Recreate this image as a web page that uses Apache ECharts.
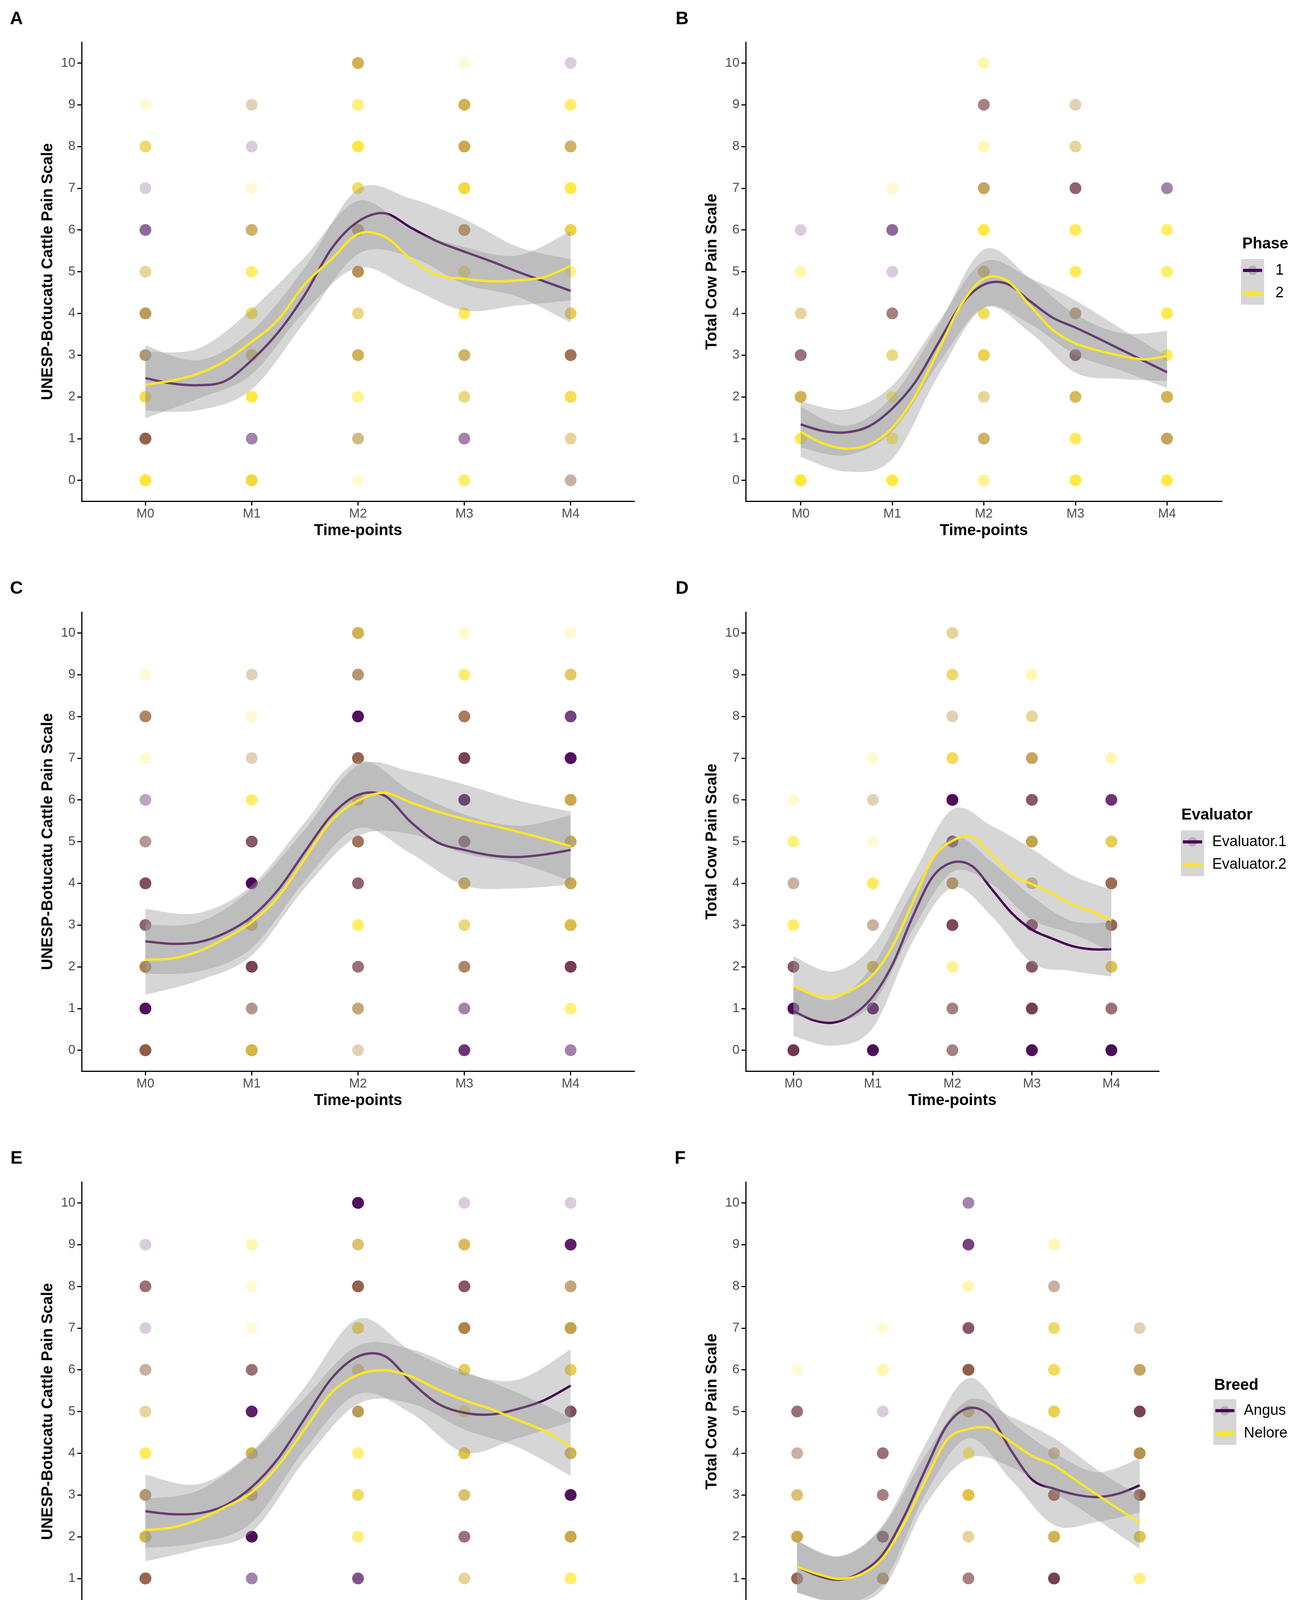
<!DOCTYPE html>
<html><head><meta charset="utf-8">
<script src="https://cdn.jsdelivr.net/npm/echarts@6/dist/echarts.min.js"></script>
<style>html,body{margin:0;padding:0;background:#fff}#c{width:3315px;height:5767px}</style>
</head><body><div id="c"></div>
<script>
// ---------------- DATA ----------------
const timeLabels = ['M0','M1','M2','M3','M4'];
const scoreTicks = [0,1,2,3,4,5,6,7,8,9,10];
const timeTicks = [0,1,2,3,4];
const fitX = [0,0.25,0.5,0.75,1,1.25,1.5,1.75,2,2.25,2.5,2.75,3,3.25,3.5,3.75,4];
const bandX = [0,0.5,1,1.5,2,2.5,3,3.5,4];
const yTitleUNESP = 'UNESP-Botucatu Cattle Pain Scale';
const yTitleTotal = 'Total Cow Pain Scale';
const xTitle = 'Time-points';
const phaseLabels = ['1','2'];
const evaluatorLabels = ['Evaluator.1','Evaluator.2'];
const breedLabels = ['Angus','Nelore'];
const animalLabels = ['1','2','3','4','6','7','8','9','11','12','15','16','17','18','19','20','21','22','24'];

// counts of observations per time point (rows M0..M4), per score 0..10
const A_phase1 = [[0,10,1,4,5,1,4,1,1,0,0],[2,3,0,3,1,0,3,0,1,1,0],[0,2,0,4,1,6,6,1,0,0,4],[0,3,1,3,0,1,6,2,5,4,0],[2,1,1,7,2,0,2,0,3,0,1]];
const A_phase2 = [[10,2,8,2,3,2,0,0,4,1,0],[8,0,8,4,6,5,3,1,0,1,0],[1,2,3,4,3,3,3,5,9,4,4],[5,0,3,3,6,6,3,8,4,4,1],[1,2,6,2,5,3,6,8,3,5,0]];
const B_phase1 = [[0,0,4,5,1,0,1,0,0,0,0],[0,0,0,1,4,1,4,0,0,0,0],[0,3,1,2,1,4,0,4,0,4,0],[0,0,3,8,4,0,0,6,1,1,0],[0,4,4,0,0,0,0,3,0,0,0]];
const B_phase2 = [[10,7,4,1,2,2,0,0,0,0,0],[9,6,5,3,1,0,0,1,0,0,0],[3,3,2,6,5,4,8,3,2,1,2],[8,6,4,1,2,6,6,1,2,1,0],[8,3,4,6,7,5,5,0,0,0,0]];
const C_eval1 = [[12,12,8,6,8,3,2,0,5,0,0],[5,3,10,4,14,7,0,1,0,1,0],[1,3,5,0,6,7,3,9,12,4,4],[7,3,5,1,5,10,12,10,6,0,0],[3,0,11,4,5,4,5,12,6,2,0]];
const C_eval2 = [[2,0,3,1,1,1,0,1,2,1,0],[5,1,1,4,0,1,5,1,1,1,0],[1,2,1,5,1,2,4,2,0,2,4],[0,0,2,3,4,1,0,1,2,5,1],[0,4,1,5,4,3,4,0,0,4,1]];
const D_eval1 = [[13,14,7,0,2,0,0,0,0,0,0],[13,14,5,2,0,0,1,0,0,0,0],[4,4,0,9,6,11,13,1,1,1,1],[13,11,7,9,2,6,7,4,1,0,0],[14,5,3,9,8,2,7,0,0,0,0]];
const D_eval2 = [[1,0,1,5,1,4,1,0,0,0,0],[0,0,5,1,6,1,1,1,0,0,0],[1,1,3,1,3,1,0,5,1,4,2],[0,1,1,1,2,4,1,3,2,2,0],[0,1,5,2,2,5,0,2,0,0,0]];
const E_angus = [[12,9,5,4,0,1,2,1,5,1,0],[0,3,13,5,5,9,5,0,0,0,0],[1,5,0,1,0,5,2,2,10,2,12],[7,1,5,2,4,1,2,8,7,3,1],[0,0,5,12,4,8,2,6,3,9,1]];
const E_nelore = [[1,2,5,2,6,2,1,0,1,0,0],[7,0,0,4,5,0,1,1,1,2,0],[1,0,4,5,4,3,4,6,2,3,0],[0,2,1,3,6,5,5,3,1,4,0],[2,5,4,0,4,1,6,4,2,0,0]];
const F_angus = [[10,9,5,2,2,5,0,0,0,0,0],[9,7,13,4,5,1,0,0,0,0,0],[4,4,1,4,0,4,11,7,0,6,3],[11,11,4,10,2,2,1,1,2,0,0],[7,0,3,10,6,10,4,1,0,0,0]];
const F_nelore = [[2,2,4,3,1,1,1,0,0,0,0],[2,3,1,1,1,0,2,1,0,0,0],[1,1,2,6,5,4,2,1,2,0,0],[1,1,4,2,2,6,5,4,1,2,0],[4,4,5,2,3,1,3,1,0,0,0]];

// smoothed fits (at fitX) and confidence half-widths (at bandX)
const A_fit1 = [2.45,2.32,2.28,2.38,2.88,3.55,4.45,5.55,6.2,6.4,6.05,5.72,5.48,5.25,5.0,4.77,4.54];
const A_fit2 = [2.29,2.39,2.56,2.86,3.32,3.85,4.7,5.3,5.9,5.84,5.3,4.92,4.83,4.77,4.79,4.87,5.14];
const A_hw1 = [0.78,0.6,0.7,0.65,0.78,0.7,0.78,0.6,0.76];
const A_hw2 = [0.8,0.6,0.78,0.65,0.8,0.7,0.76,0.6,0.83];
const B_fit1 = [1.34,1.18,1.15,1.3,1.72,2.35,3.28,4.2,4.69,4.71,4.3,3.9,3.66,3.4,3.13,2.86,2.59];
const B_fit2 = [1.16,0.88,0.76,0.86,1.26,2.02,3.1,4.2,4.83,4.79,4.2,3.61,3.28,3.11,2.98,2.9,2.98];
const B_hw1 = [0.55,0.55,0.55,0.5,0.55,0.55,0.65,0.5,0.38];
const B_hw2 = [0.6,0.55,0.75,0.6,0.7,0.65,0.7,0.55,0.6];
const C_fit1 = [2.61,2.55,2.59,2.81,3.2,3.85,4.76,5.63,6.12,6.1,5.46,4.98,4.8,4.67,4.63,4.69,4.8];
const C_fit2 = [2.17,2.2,2.37,2.68,3.07,3.68,4.59,5.5,5.98,6.17,5.93,5.72,5.54,5.39,5.24,5.07,4.89];
const C_hw1 = [0.78,0.7,0.75,0.7,0.8,0.75,0.85,0.75,0.83];
const C_hw2 = [0.84,0.7,0.8,0.7,0.85,0.75,0.83,0.75,0.83];
const D_fit1 = [0.94,0.72,0.66,0.85,1.29,2.07,3.2,4.15,4.5,4.41,3.85,3.28,2.89,2.68,2.5,2.42,2.42];
const D_fit2 = [1.55,1.33,1.29,1.46,1.81,2.5,3.54,4.59,5.02,5.11,4.67,4.2,3.98,3.76,3.5,3.33,3.11];
const D_hw1 = [0.6,0.55,0.75,0.6,0.6,0.65,0.8,0.6,0.65];
const D_hw2 = [0.7,0.6,0.7,0.65,0.75,0.7,0.85,0.7,0.74];
const E_fit1 = [2.61,2.54,2.56,2.75,3.19,3.88,4.84,5.79,6.32,6.33,5.71,5.19,4.97,4.93,5.06,5.27,5.62];
const E_fit2 = [2.16,2.22,2.41,2.71,3.06,3.71,4.58,5.45,5.88,5.99,5.84,5.53,5.27,5.06,4.8,4.54,4.16];
const E_hw1 = [0.88,0.7,0.85,0.75,0.9,0.75,0.95,0.7,0.87];
const E_hw2 = [0.75,0.7,0.95,0.75,0.7,0.65,0.7,0.65,0.7];
const F_fit1 = [1.28,1.06,0.97,1.15,1.58,2.49,3.62,4.67,5.08,4.89,4.06,3.36,3.15,3.01,2.95,3.03,3.23];
const F_fit2 = [1.28,1.1,0.99,1.1,1.49,2.32,3.36,4.32,4.58,4.6,4.27,3.93,3.71,3.36,3.01,2.67,2.34];
const F_hw1 = [0.62,0.55,0.7,0.6,0.72,0.7,0.87,0.6,0.65];
const F_hw2 = [0.62,0.55,0.75,0.6,0.7,0.6,0.65,0.6,0.63];

// per-animal points: [time index, score, animal index, count]
const G_points = [[0,9,11,1],[0,8,11,4],[0,7,12,1],[0,6,16,2],[0,5,10,2],[0,4,6,4],[0,3,2,1],[0,3,15,2],[0,2,1,2],[0,2,16,3],[0,1,3,2],[0,1,13,3],[0,0,2,1],[0,0,14,4],
 [1,9,2,2],[1,8,3,1],[1,7,4,2],[1,6,11,3],[1,5,13,3],[1,4,1,1],[1,4,10,3],[1,3,2,1],[1,3,15,3],[1,2,16,3],[1,1,15,1],[1,0,8,4],
 [2,10,15,4],[2,9,3,1],[2,9,16,2],[2,8,1,1],[2,8,15,4],[2,7,8,4],[2,6,7,3],[2,5,11,3],[2,4,2,2],[2,4,12,1],[2,3,4,1],[2,3,14,2],[2,2,4,1],[2,2,14,2],[2,1,13,2],[2,0,8,1],
 [3,10,11,1],[3,9,10,3],[3,8,3,1],[3,8,15,2],[3,7,11,3],[3,6,6,3],[3,5,5,3],[3,4,2,1],[3,4,14,2],[3,3,3,1],[3,3,15,2],[3,2,16,2],[3,1,10,1],[3,0,15,2],
 [4,10,11,1],[4,9,11,3],[4,8,10,2],[4,7,2,1],[4,7,13,3],[4,6,3,1],[4,6,12,4],[4,5,16,3],[4,4,3,1],[4,4,10,2],[4,3,16,3],[4,2,3,1],[4,2,14,2],[4,1,4,3],[4,0,2,2]];
const H_points = [[0,6,9,1],[0,5,13,2],[0,4,11,2],[0,3,9,2],[0,2,3,1],[0,2,15,2],[0,1,3,1],[0,1,14,3],[0,0,2,1],[0,0,14,5],
 [1,7,2,1],[1,6,2,2],[1,5,13,1],[1,4,15,2],[1,3,10,2],[1,2,14,3],[1,1,3,1],[1,1,14,3],[1,0,2,1],[1,0,14,5],
 [2,10,15,2],[2,9,16,2],[2,8,3,2],[2,7,4,1],[2,7,16,2],[2,6,13,3],[2,5,2,1],[2,5,15,3],[2,4,7,2],[2,3,2,1],[2,3,8,3],[2,2,14,2],[2,1,9,2],[2,0,12,2],
 [3,9,4,2],[3,8,14,2],[3,7,11,3],[3,6,6,3],[3,5,2,1],[3,5,11,3],[3,4,6,2],[3,3,3,1],[3,3,13,2],[3,2,3,1],[3,2,14,2],[3,1,14,3],[3,0,17,3],
 [4,7,10,2],[4,6,3,1],[4,6,14,2],[4,5,11,3],[4,4,1,2],[4,4,13,3],[4,3,16,3],[4,2,11,3],[4,1,3,1],[4,1,13,2],[4,0,2,1],[4,0,13,4]];

// per-animal smoothed curves, values at bandX
const G_curves = [
 [2.0,3.5,4.25,3.9,3.0,3.6,4.95,5.45,5.5],
 [1.75,5.0,8.2,8.8,8.05,7.15,5.55,3.3,0.28],
 [0.7,1.2,2.2,3.6,4.5,4.2,3.75,3.9,4.5],
 [0.6,0.8,1.7,4.5,6.75,5.6,4.0,4.6,6.7],
 [0.5,1.2,2.7,5.8,8.0,8.85,8.4,7.5,6.25],
 [3.25,2.55,2.5,3.2,4.0,5.5,6.25,5.5,3.3],
 [2.5,2.6,3.0,3.1,3.6,5.0,6.2,6.1,5.2],
 [6.7,4.3,3.0,4.5,7.7,6.5,4.5,3.7,3.2],
 [0.5,1.2,3.0,5.5,8.2,9.0,8.3,5.5,1.75],
 [1.5,0.1,-0.1,1.8,4.25,3.2,1.0,3.5,8.7],
 [5.5,4.2,3.1,2.75,3.0,4.5,7.0,7.55,7.25],
 [8.0,6.2,4.2,1.8,0.9,3.8,8.0,9.0,7.2],
 [0.1,2.6,5.0,6.8,7.5,5.5,3.5,3.4,5.0],
 [2.7,1.5,1.4,4.0,7.4,6.0,3.6,3.4,4.75],
 [0.0,1.5,3.5,7.5,9.4,9.3,8.0,6.5,4.8],
 [0.3,1.6,2.3,6.8,9.6,9.6,7.8,6.2,5.0],
 [2.5,2.6,2.8,3.2,3.5,3.1,2.25,2.4,3.25],
 [0.95,1.2,2.0,5.2,7.5,5.2,3.6,3.05,3.5],
 [3.25,1.7,2.0,5.5,8.0,5.0,2.2,2.5,5.8]];
const H_curves = [
 [0.25,0.3,0.5,0.8,1.25,2.1,2.75,2.7,2.2],
 [0.55,3.0,5.0,5.9,5.9,4.7,3.3,2.2,0.7],
 [0.75,-0.1,0.5,3.0,5.5,3.8,1.3,1.2,3.2],
 [0.7,1.5,2.3,3.5,5.3,3.5,2.0,1.8,2.0],
 [0.0,0.5,1.5,4.0,6.2,7.3,7.55,7.0,5.0],
 [1.2,0.8,1.0,2.5,4.3,4.5,4.3,4.0,3.2],
 [0.0,0.2,0.7,1.8,3.5,5.5,6.25,4.8,0.8],
 [3.5,1.8,1.0,2.5,4.7,3.0,1.8,1.5,2.0],
 [0.0,0.4,1.0,3.0,5.5,6.8,6.6,4.5,0.5],
 [1.5,0.8,0.9,1.8,2.5,1.8,1.25,1.5,2.5],
 [0.25,1.2,2.5,3.8,4.7,3.0,2.0,2.0,4.7],
 [2.75,1.5,0.7,0.35,0.7,2.5,4.5,4.9,3.8],
 [0.0,0.5,1.0,2.3,3.3,3.3,3.0,3.4,4.5],
 [3.0,1.6,1.2,5.0,7.75,5.0,2.5,2.3,3.6],
 [2.2,1.3,1.5,3.5,5.8,4.8,2.5,2.0,2.7],
 [0.0,0.5,2.0,7.0,9.5,9.5,7.5,4.0,1.5],
 [2.0,1.3,1.0,1.3,1.75,1.95,2.0,1.7,1.25],
 [0.0,0.3,1.0,3.5,5.0,4.3,2.5,2.3,2.75],
 [0.9,0.4,1.0,4.5,7.0,4.0,1.0,1.0,4.25]];

// ---------------- STYLE / BUILD ----------------
const FONT = '"Liberation Sans", Arial, Helvetica, sans-serif';
const PURPLE = '#440154', YELLOW = '#FDE725';
const viridisStops = ['#440154','#482475','#414487','#355F8D','#2A788E','#21918C','#22A884','#44BF70','#7AD151','#BDDF26','#FDE725'];
function hex2rgb(h){return [parseInt(h.slice(1,3),16),parseInt(h.slice(3,5),16),parseInt(h.slice(5,7),16)];}
function viridis(t){
  const p=t*(viridisStops.length-1), i=Math.min(Math.floor(p),viridisStops.length-2), f=p-i;
  const a=hex2rgb(viridisStops[i]), b=hex2rgb(viridisStops[i+1]);
  const c=a.map((v,k)=>Math.round(v+(b[k]-v)*f));
  return 'rgb('+c.join(',')+')';
}
function rgba(col,a){
  let c; if(col[0]==='#') c=hex2rgb(col); else c=col.match(/\d+/g).map(Number);
  return 'rgba('+c[0]+','+c[1]+','+c[2]+','+a+')';
}
const animalColors = animalLabels.map((_,i)=>viridis(i/(animalLabels.length-1)));

// Catmull-Rom -> cubic Bezier segments through pixel points
function crSegments(pts){
  let d='';
  for(let i=0;i<pts.length-1;i++){
    const p0=pts[i-1]||pts[i], p1=pts[i], p2=pts[i+1], p3=pts[i+2]||pts[i+1];
    const c1x=p1[0]+(p2[0]-p0[0])/6, c1y=p1[1]+(p2[1]-p0[1])/6;
    const c2x=p2[0]-(p3[0]-p1[0])/6, c2y=p2[1]-(p3[1]-p1[1])/6;
    d+=' C'+c1x.toFixed(2)+' '+c1y.toFixed(2)+' '+c2x.toFixed(2)+' '+c2y.toFixed(2)+' '+p2[0].toFixed(2)+' '+p2[1].toFixed(2);
  }
  return d;
}
function curveSeries(gi, rows, color, width, z){
  return {type:'custom', xAxisIndex:gi, yAxisIndex:gi, data:rows, silent:true, z, clip:true, animation:false,
    encode:{x:0, y:1},
    renderItem:function(params, api){
      if(params.dataIndex!==0) return null;
      const pts=rows.map(r=>api.coord([r[0], r[1]]));
      return {type:'path', shape:{pathData:'M'+pts[0][0].toFixed(2)+' '+pts[0][1].toFixed(2)+crSegments(pts)},
        style:{stroke:color, lineWidth:width, fill:null, lineCap:'butt', lineJoin:'round'}};
    }};
}
function bandSeries(gi, rows, z){
  return {type:'custom', xAxisIndex:gi, yAxisIndex:gi, data:rows, silent:true, z, clip:true, animation:false,
    encode:{x:0, y:[1,2]},
    renderItem:function(params, api){
      if(params.dataIndex!==0) return null;
      const up=rows.map(r=>api.coord([r[0], r[2]]));
      const lo=rows.map(r=>api.coord([r[0], r[1]])).reverse();
      const d='M'+up[0][0].toFixed(2)+' '+up[0][1].toFixed(2)+crSegments(up)+
              ' L'+lo[0][0].toFixed(2)+' '+lo[0][1].toFixed(2)+crSegments(lo)+' Z';
      return {type:'path', shape:{pathData:d}, style:{fill:'rgba(153,153,153,0.4)', stroke:null}};
    }};
}

const PLOT_H = 1175;
const panels = [
 {id:'A', left:209, top:108, width:1415, yName:yTitleUNESP, kind:'pair', c:[A_phase1,A_phase2], f:[A_fit1,A_fit2], h:[A_hw1,A_hw2], lx:42, ly:49},
 {id:'B', left:1909, top:108, width:1219, yName:yTitleTotal, kind:'pair', c:[B_phase1,B_phase2], f:[B_fit1,B_fit2], h:[B_hw1,B_hw2], lx:1746, ly:49},
 {id:'C', left:209, top:1567, width:1415, yName:yTitleUNESP, kind:'pair', c:[C_eval1,C_eval2], f:[C_fit1,C_fit2], h:[C_hw1,C_hw2], lx:42, ly:1507},
 {id:'D', left:1909, top:1567, width:1058, yName:yTitleTotal, kind:'pair', c:[D_eval1,D_eval2], f:[D_fit1,D_fit2], h:[D_hw1,D_hw2], lx:1746, ly:1507},
 {id:'E', left:209, top:3026, width:1415, yName:yTitleUNESP, kind:'pair', c:[E_angus,E_nelore], f:[E_fit1,E_fit2], h:[E_hw1,E_hw2], lx:42, ly:2966},
 {id:'F', left:1909, top:3026, width:1140, yName:yTitleTotal, kind:'pair', c:[F_angus,F_nelore], f:[F_fit1,F_fit2], h:[F_hw1,F_hw2], lx:1741, ly:2966},
 {id:'G', left:209, top:4484, width:1415, yName:yTitleUNESP, kind:'animal', pts:G_points, cur:G_curves, lx:42, ly:4422},
 {id:'H', left:1909, top:4484, width:1204, yName:yTitleTotal, kind:'animal', pts:H_points, cur:H_curves, lx:1746, ly:4422}
];

const grids=[], xAxes=[], yAxes=[], series=[], graphics=[];
panels.forEach((p,gi)=>{
  const grey = p.kind==='animal';
  grids.push({left:p.left, top:p.top, width:p.width, height:PLOT_H, show:grey, backgroundColor:grey?'#EBEBEB':'transparent', borderWidth:0, containLabel:false});
  const tickStyle = {show:true, length:11, lineStyle:{color:grey?'#333333':'#000', width:3}};
  xAxes.push({gridIndex:gi, type:'value', min:-0.6, max:4.6,
    axisLine:{show:!grey, onZero:false, lineStyle:{color:'#000', width:3}},
    axisTick:Object.assign({customValues:timeTicks}, tickStyle),
    axisLabel:{customValues:timeTicks, formatter:v=>timeLabels[Math.round(v)], color:'#4D4D4D', fontSize:33, fontFamily:FONT, margin:16},
    splitLine:{show:false},
    name:xTitle, nameLocation:'middle', nameGap:56, nameTextStyle:{fontFamily:FONT, fontWeight:'bold', fontSize:40, color:'#000'}});
  yAxes.push({gridIndex:gi, type:'value', min:-0.5, max:10.5,
    axisLine:{show:!grey, onZero:false, lineStyle:{color:'#000', width:3}},
    axisTick:Object.assign({customValues:scoreTicks}, tickStyle),
    axisLabel:{customValues:scoreTicks, color:'#4D4D4D', fontSize:33, fontFamily:FONT, margin:16},
    splitLine:{show:false},
    name:p.yName, nameLocation:'middle', nameGap:66, nameTextStyle:{fontFamily:FONT, fontWeight:'bold', fontSize:40, color:'#000'}});

  if(p.kind==='pair'){
    const cols=[PURPLE,YELLOW];
    p.c.forEach((counts,g)=>{
      const data=[];
      counts.forEach((arr,t)=>arr.forEach((n,s)=>{for(let k=0;k<n;k++) data.push([t,s]);}));
      series.push({type:'scatter', xAxisIndex:gi, yAxisIndex:gi, data, symbolSize:30, silent:true, z:2,
        itemStyle:{color:cols[g], opacity:0.2}, animation:false});
    });
    [0,1].forEach(g=>{
      const fit=p.f[g], hw=p.h[g];
      series.push(bandSeries(gi, bandX.map((x,k)=>[x, fit[2*k]-hw[k], fit[2*k]+hw[k]]), 3+g*2));
      series.push(curveSeries(gi, fitX.map((x,k)=>[x, fit[k]]), cols[g], 6, 4+g*2));
    });
  } else {
    const data=[];
    p.pts.forEach(([t,s,a,n])=>{for(let k=0;k<n;k++) data.push({value:[t,s], itemStyle:{color:animalColors[a], opacity:0.25}});});
    series.push({type:'scatter', xAxisIndex:gi, yAxisIndex:gi, data, symbolSize:30, silent:true, z:2, animation:false});
    p.cur.forEach((vals,a)=>{
      series.push(curveSeries(gi, bandX.map((x,k)=>[x, vals[k]]), animalColors[a], 6, 3));
    });
  }
  graphics.push({type:'text', x:p.lx, y:p.ly, silent:true,
    style:{text:p.id, fontFamily:FONT, fontWeight:'bold', fontSize:46, fill:'#000', align:'center', verticalAlign:'middle', textAlign:'center', textVerticalAlign:'middle'}});
});

// legends
const legends = [
 {title:'Phase', labels:phaseLabels, colors:[PURPLE,YELLOW], tx:3180, ty:625, kx:3177, ky:663, kh:58.5, lx:3265, bg:'#D6D6D6', alpha:0.2, lw:8},
 {title:'Evaluator', labels:evaluatorLabels, colors:[PURPLE,YELLOW], tx:3024, ty:2087, kx:3023, ky:2126, kh:58.5, lx:3103, bg:'#D6D6D6', alpha:0.2, lw:8},
 {title:'Breed', labels:breedLabels, colors:[PURPLE,YELLOW], tx:3108, ty:3547, kx:3106, ky:3582, kh:58.5, lx:3184, bg:'#D6D6D6', alpha:0.2, lw:8},
 {title:'Animal', labels:animalLabels, colors:animalColors, tx:3162, ty:4506, kx:3160, ky:4543, kh:58.7, lx:3240, bg:'#F2F2F2', alpha:0.25, lw:5}
];
legends.forEach(L=>{
  graphics.push({type:'text', x:L.tx, y:L.ty, silent:true, style:{text:L.title, fontFamily:FONT, fontWeight:'bold', fontSize:40, fill:'#000', align:'left', verticalAlign:'middle', textAlign:'left', textVerticalAlign:'middle'}});
  graphics.push({type:'rect', silent:true, shape:{x:L.kx, y:L.ky, width:59, height:L.kh*L.labels.length}, style:{fill:L.bg}});
  L.labels.forEach((lab,i)=>{
    const cy=L.ky+L.kh*(i+0.5), cx=L.kx+29.5;
    graphics.push({type:'circle', silent:true, shape:{cx, cy, r:12}, style:{fill:rgba(L.colors[i], L.alpha)}});
    graphics.push({type:'line', silent:true, shape:{x1:L.kx+5, y1:cy, x2:L.kx+54, y2:cy}, style:{stroke:L.colors[i], lineWidth:L.lw}});
    graphics.push({type:'text', x:L.lx, y:cy, silent:true, style:{text:lab, fontFamily:FONT, fontSize:38, fill:'#000', align:'left', verticalAlign:'middle', textAlign:'left', textVerticalAlign:'middle'}});
  });
});

const chart = echarts.init(document.getElementById('c'), null, {renderer:'canvas', width:3315, height:5767});
chart.setOption({backgroundColor:'#ffffff', animation:false, grid:grids, xAxis:xAxes, yAxis:yAxes, series, graphic:{elements:graphics}});
</script>
</body></html>
